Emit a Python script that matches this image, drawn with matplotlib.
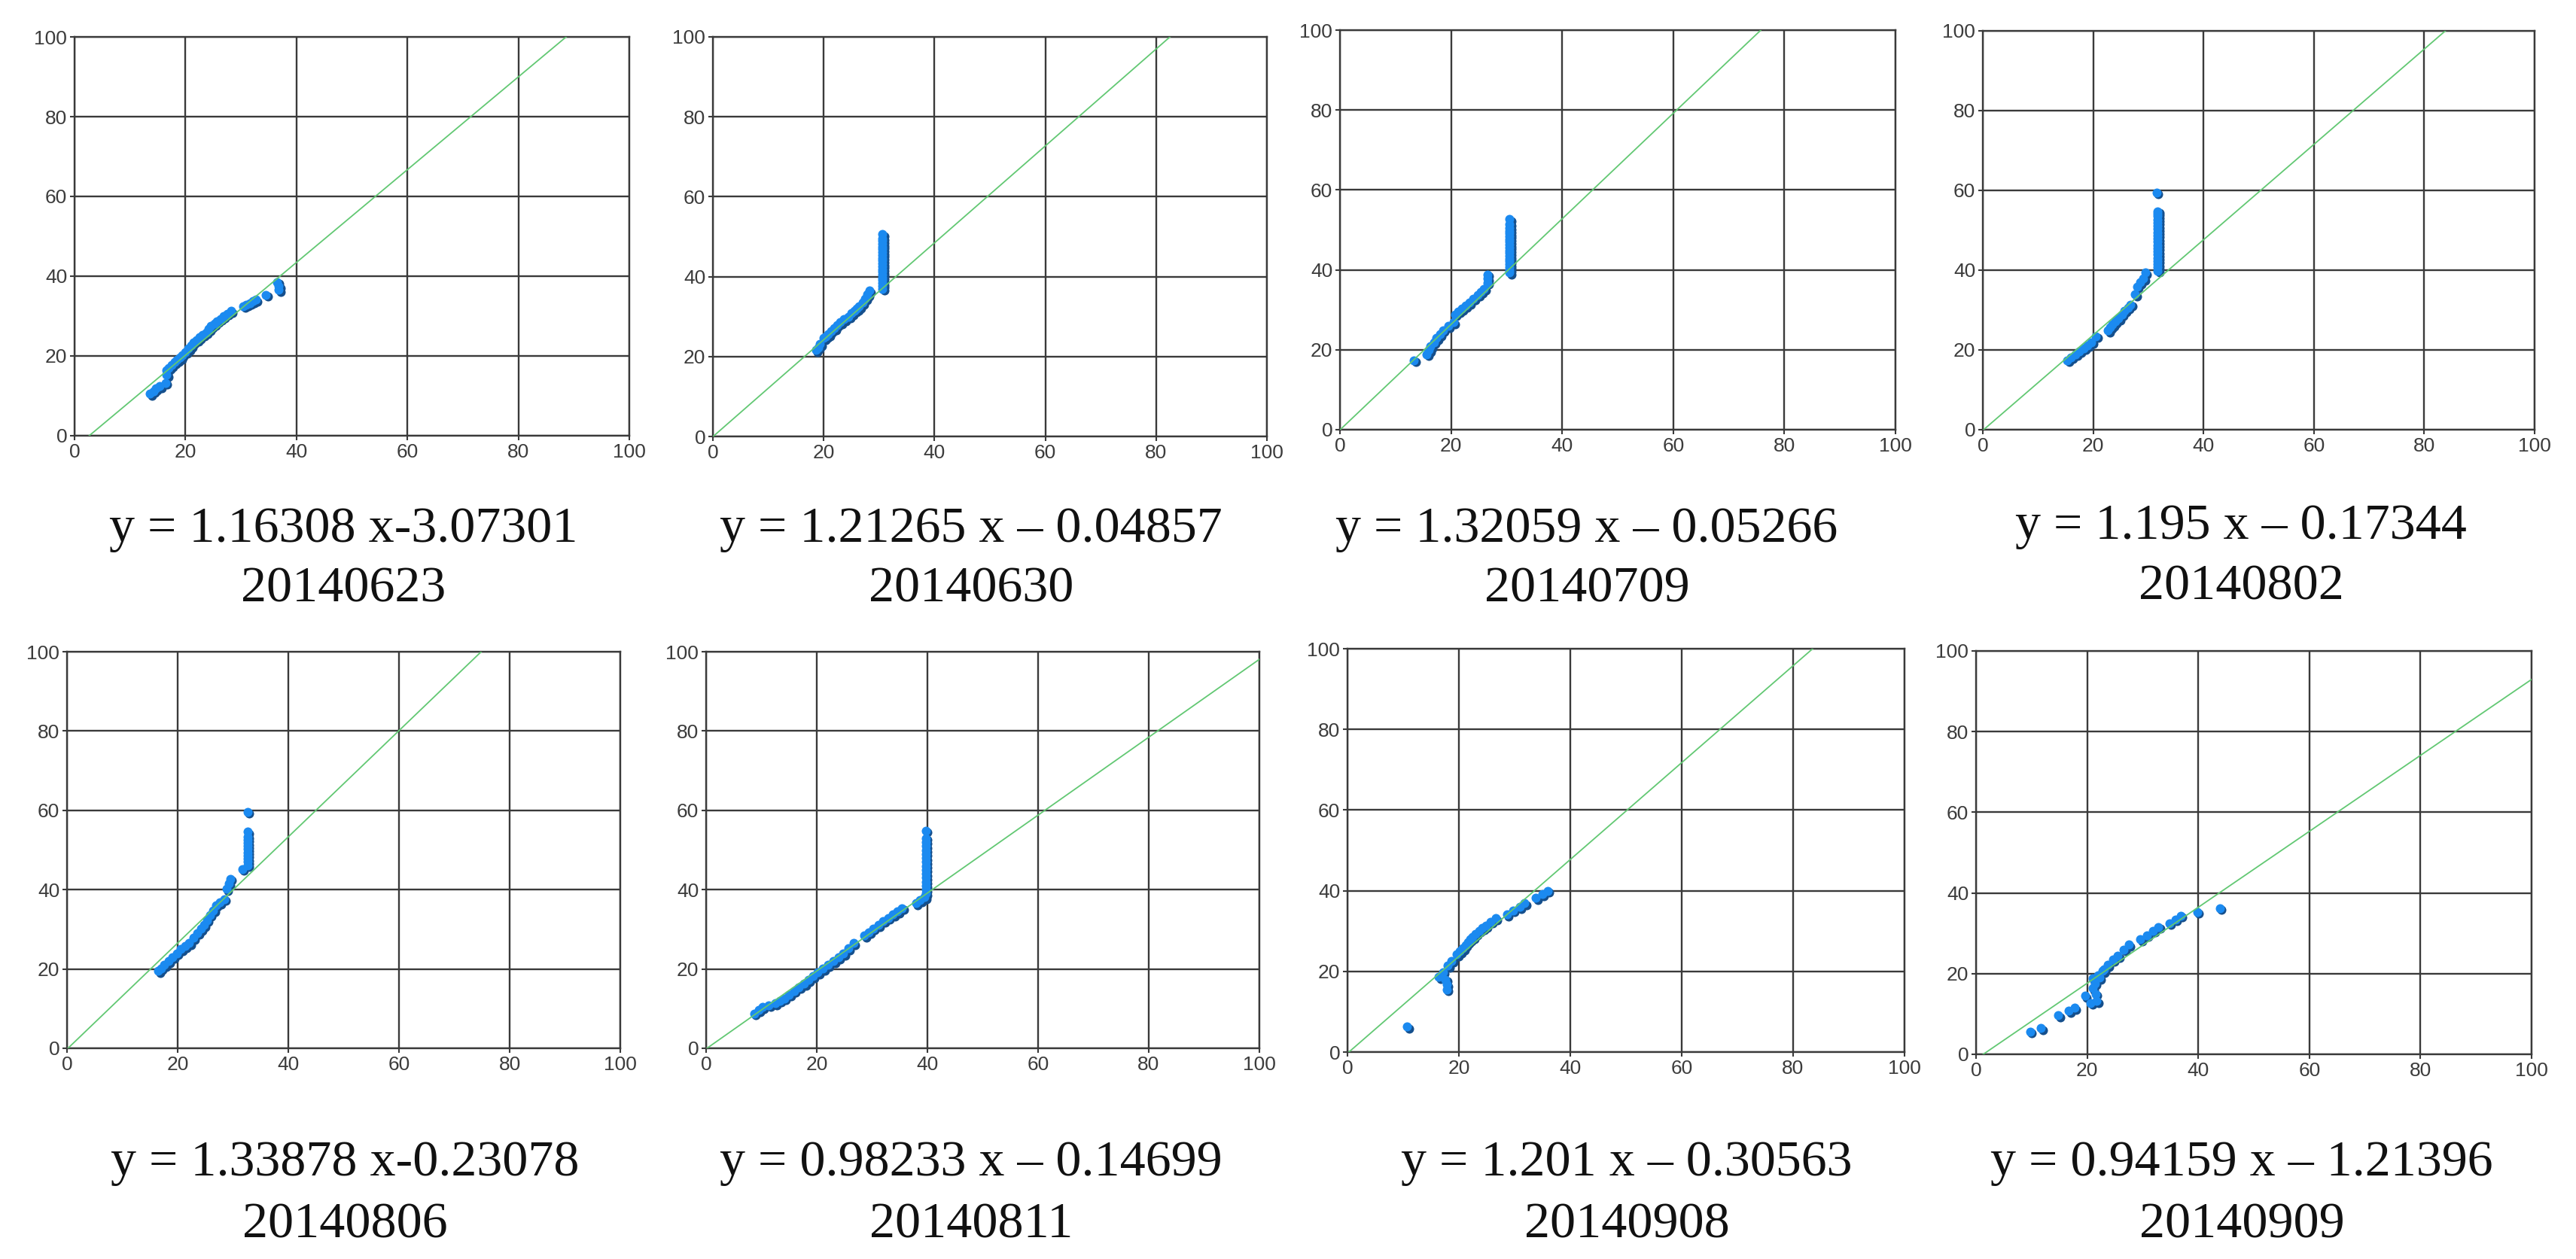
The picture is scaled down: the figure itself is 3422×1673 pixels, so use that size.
import numpy as np
import matplotlib
matplotlib.use("Agg")
import matplotlib.pyplot as plt
from matplotlib import transforms

# ===================== DATA =====================
dates = ["20140623", "20140630", "20140709", "20140802",
         "20140806", "20140811", "20140908", "20140909"]
equations = ["y = 1.16308 x-3.07301", "y = 1.21265 x \u2013 0.04857",
             "y = 1.32059 x \u2013 0.05266", "y = 1.195 x \u2013 0.17344",
             "y = 1.33878 x-0.23078", "y = 0.98233 x \u2013 0.14699",
             "y = 1.201 x \u2013 0.30563", "y = 0.94159 x \u2013 1.21396"]
slopes = [1.16308, 1.21265, 1.32059, 1.195, 1.33878, 0.98233, 1.201, 0.94159]
intercepts = [-3.07301, -0.04857, -0.05266, -0.17344,
              -0.23078, -0.14699, -0.30563, -1.21396]

x_0623 = [13.6, 14.2, 14.6, 15.4, 16.4, 16.6, 16.6, 17.0, 17.5, 18.0, 18.5, 19.0,
          19.4, 20.0, 20.5, 21.0, 21.4, 22.0, 22.5, 23.1, 23.7, 24.2, 24.6, 25.2,
          25.7, 26.3, 26.8, 27.5, 28.2, 30.4, 31.0, 31.6, 32.1, 32.7, 34.5, 36.5,
          36.8, 36.8]
y_0623 = [10.5, 11.2, 11.8, 12.4, 13.3, 15.2, 16.5, 17.0, 17.7, 18.4, 19.0, 19.6,
          20.2, 21.0, 21.8, 22.6, 23.4, 24.0, 24.7, 25.3, 25.9, 26.7, 27.5, 28.1,
          28.7, 29.3, 30.0, 30.6, 31.3, 32.5, 32.9, 33.3, 33.7, 34.1, 35.3, 38.5,
          36.6, 37.5]

x_0630 = [18.6, 19.0, 19.3, 20.0, 20.4, 20.8, 21.3, 21.9, 22.4, 23.0, 23.7, 24.5,
          25.0, 25.6, 26.0, 26.4, 27.0, 27.5, 27.9, 28.2,
          30.6, 30.6, 30.6, 30.6, 30.6, 30.6, 30.6, 30.6, 30.6, 30.6, 30.6, 30.6,
          30.6, 30.6, 30.6, 30.6, 30.6, 30.6, 30.6, 30.6]
y_0630 = [21.6, 22.3, 23.1, 24.6, 25.1, 25.6, 26.4, 27.1, 27.9, 28.6, 29.3, 30.0,
          30.8, 31.5, 32.0, 32.5, 33.5, 34.5, 35.5, 36.5,
          37.0, 37.7, 38.4, 39.1, 39.8, 40.5, 41.2, 41.9, 42.6, 43.3, 44.0, 44.7,
          45.4, 46.1, 46.8, 47.5, 48.2, 48.9, 49.6, 50.6]

x_0709 = [13.3, 15.6, 16.0, 16.3, 16.9, 17.4, 18.0, 18.5, 19.5, 20.4, 20.7, 21.3,
          21.9, 22.6, 23.3, 24.0, 24.8, 25.4, 25.9, 26.5, 26.5, 26.5,
          30.5, 30.5, 30.5, 30.5, 30.5, 30.5, 30.5, 30.5, 30.5, 30.5, 30.5, 30.5,
          30.5, 30.5, 30.5, 30.5, 30.5, 30.5, 30.5]
y_0709 = [17.4, 18.9, 19.9, 20.9, 21.9, 22.9, 23.9, 24.9, 25.9, 26.9, 28.9, 29.6,
          30.3, 31.0, 31.8, 32.8, 33.8, 34.5, 35.3, 36.8, 37.8, 38.8,
          39.3, 40.0, 40.7, 41.4, 42.1, 42.8, 43.5, 44.2, 44.9, 45.6, 46.3, 47.0,
          47.7, 48.4, 49.1, 49.8, 50.5, 51.5, 52.7]

x_0802 = [15.3, 16.0, 16.8, 17.5, 18.3, 19.0, 19.7, 20.5, 22.7, 23.1, 23.5, 24.0,
          24.6, 25.2, 25.7, 26.3, 26.8, 27.6, 27.9, 28.5, 29.1, 29.4,
          31.7, 31.7, 31.7, 31.7, 31.7, 31.7, 31.7, 31.7, 31.7, 31.7, 31.7, 31.7,
          31.7, 31.7, 31.7, 31.7, 31.7, 31.7, 31.7, 31.7, 31.5]
y_0802 = [17.4, 18.2, 18.9, 19.7, 20.4, 21.2, 21.9, 23.4, 24.9, 25.7, 26.4, 27.1,
          27.9, 28.9, 29.9, 30.6, 31.4, 33.9, 35.9, 36.9, 37.9, 39.4,
          39.9, 40.7, 41.5, 42.3, 43.1, 43.9, 44.7, 45.5, 46.3, 47.1, 47.9, 48.7,
          49.5, 50.3, 51.1, 51.9, 52.7, 53.5, 54.2, 54.8, 59.5]

x_0806 = [16.5, 17.0, 17.6, 18.3, 19.1, 19.8, 20.6, 21.3, 22.1, 22.8, 23.6, 24.2,
          24.7, 25.3, 25.8, 26.4, 26.9, 27.6, 28.4, 28.8, 29.2, 29.5, 31.7,
          32.6, 32.6, 32.6, 32.6, 32.6, 32.6, 32.6, 32.6, 32.6, 32.6, 32.6, 32.6]
y_0806 = [19.5, 20.2, 21.0, 22.0, 23.0, 24.0, 25.0, 25.8, 26.5, 27.8, 29.1, 30.1,
          31.1, 32.3, 33.6, 34.8, 36.1, 36.8, 37.6, 40.2, 41.5, 42.7, 45.2,
          46.2, 47.0, 47.8, 48.6, 49.4, 50.2, 51.0, 51.8, 52.6, 53.4, 54.6, 59.6]

x_0811 = [8.7, 9.5, 10.2, 11.3, 12.5, 13.3, 14.1, 15.0, 15.9, 16.8, 17.7, 18.5,
          19.3, 20.2, 21.1, 22.0, 23.0, 23.9, 24.8, 25.7, 26.6, 28.6, 29.4,
          30.2, 31.1, 32.0, 32.9, 33.8, 34.6, 35.4, 37.9, 38.7, 39.5,
          39.7, 39.7, 39.7, 39.7, 39.7, 39.7, 39.7, 39.7, 39.7, 39.7, 39.7, 39.7,
          39.7, 39.7, 39.7, 39.7]
y_0811 = [8.8, 9.6, 10.4, 10.9, 11.3, 12.0, 12.6, 13.5, 14.5, 15.4, 16.3, 17.2,
          18.2, 19.1, 20.1, 21.0, 22.0, 22.9, 23.9, 25.2, 26.5, 28.4, 29.3,
          30.2, 31.1, 32.1, 32.9, 33.7, 34.5, 35.3, 36.6, 37.3, 38.1,
          39.0, 40.0, 41.0, 42.0, 43.0, 44.0, 45.0, 46.0, 47.0, 48.0, 49.0, 50.0,
          51.0, 52.0, 53.0, 54.9]

x_0908 = [10.7, 17.8, 17.8, 17.6, 16.4, 17.1, 18.0, 18.7, 19.6, 20.2, 20.7, 21.2,
          21.6, 22.0, 22.5, 23.0, 23.6, 24.2, 24.8, 25.7, 26.6, 28.6, 29.7, 30.9,
          31.8, 33.8, 35.0, 35.9]
y_0908 = [6.3, 15.5, 16.7, 18.0, 18.6, 19.8, 21.4, 22.6, 24.2, 25.0, 25.7, 26.5,
          27.3, 27.9, 28.5, 29.3, 30.1, 30.7, 31.3, 32.3, 33.2, 34.1, 35.1, 36.0,
          36.9, 38.2, 39.1, 40.0]

x_0909 = [9.7, 11.7, 14.8, 16.7, 17.7, 19.6, 20.6, 21.7, 21.0, 21.4, 21.0, 21.5,
          21.9, 22.2, 22.8, 23.0, 23.7, 24.6, 25.5, 26.6, 27.5, 29.6, 30.7, 31.9,
          32.8, 34.8, 35.9, 36.8, 39.8, 43.9]
y_0909 = [5.6, 6.5, 9.7, 10.8, 11.5, 14.5, 12.7, 13.2, 16.4, 17.6, 18.8, 15.0,
          19.5, 19.0, 20.7, 21.0, 22.2, 23.5, 24.4, 26.0, 27.2, 28.5, 29.5, 30.6,
          31.6, 32.5, 33.4, 34.4, 35.3, 36.2]

xs = [x_0623, x_0630, x_0709, x_0802, x_0806, x_0811, x_0908, x_0909]
ys = [y_0623, y_0630, y_0709, y_0802, y_0806, y_0811, y_0908, y_0909]
ticks = [0, 20, 40, 60, 80, 100]

# ===================== LAYOUT (pixels) =====================
W, H = 3422, 1673
# x0, x100, y0, y100 of each plot area
boxes = [(99, 836, 579, 49), (947, 1683, 580, 49), (1780, 2518, 571, 40),
         (2634, 3367, 571, 41), (89, 824, 1393, 866), (938, 1673, 1393, 866),
         (1790, 2530, 1398, 862), (2625, 3363, 1401, 865)]
text_x = [456, 1290, 2108, 2977, 458, 1290, 2161, 2978]
eq_y = [704, 704, 704, 700, 1545, 1545, 1545, 1545]
date_y = [783, 783, 783, 780, 1628, 1628, 1628, 1628]

GRID = "#3a3a3a"
BLUE = "#1b8af0"
SHADOW = "#154f8c"
GREEN = "#62c873"

fig = plt.figure(figsize=(W / 100, H / 100), dpi=100)

for i in range(8):
    x0, x100, y0, y100 = boxes[i]
    ax = fig.add_axes([x0 / W, 1 - y0 / H, (x100 - x0) / W, (y0 - y100) / H])
    ax.set_xlim(0, 100)
    ax.set_ylim(0, 100)
    ax.set_xticks(ticks)
    ax.set_yticks(ticks)
    ax.grid(True, color=GRID, linewidth=1.7, zorder=1)
    ax.set_axisbelow(True)
    for sp in ax.spines.values():
        sp.set_color(GRID)
        sp.set_linewidth(1.7)
    ax.tick_params(direction="out", length=4, width=1.5, color=GRID,
                   labelsize=19, labelcolor="#3c3c3c", pad=3)
    for lab in ax.get_xticklabels() + ax.get_yticklabels():
        lab.set_fontfamily("Liberation Sans")

    # scatter with a dark drop shadow
    shadow = transforms.offset_copy(ax.transData, fig=fig, x=2.5, y=-2.5, units="dots")
    ax.scatter(xs[i], ys[i], s=75, color=SHADOW, linewidths=0, transform=shadow, zorder=2)
    ax.scatter(xs[i], ys[i], s=75, color=BLUE, linewidths=0, zorder=3)

    # regression line
    ax.plot([0, 100], [intercepts[i], slopes[i] * 100 + intercepts[i]],
            color=GREEN, linewidth=1.3, zorder=4)

    fig.text(text_x[i] / W, 1 - eq_y[i] / H, equations[i], ha="center", va="center",
             fontsize=49, family="Liberation Serif", color="#111111")
    fig.text(text_x[i] / W, 1 - date_y[i] / H, dates[i], ha="center", va="center",
             fontsize=49, family="Liberation Serif", color="#111111")

fig.savefig("out.png", dpi=100, facecolor="white")
